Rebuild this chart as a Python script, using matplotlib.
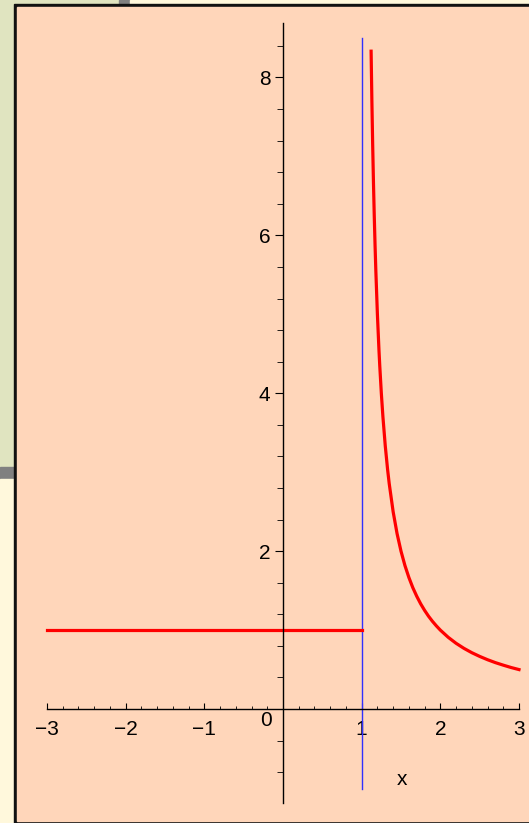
import matplotlib.pyplot as plt
from matplotlib.patches import Rectangle
from matplotlib.ticker import MultipleLocator

plt.rcParams['font.family'] = ['Liberation Sans', 'DejaVu Sans']

# piecewise function
left_x = [-3, 1]
left_y = [1, 1]
right_x = [1.12, 1.13, 1.14, 1.15, 1.16, 1.17, 1.18, 1.2, 1.22, 1.23, 1.25, 1.27,
           1.3, 1.33, 1.35, 1.4, 1.45, 1.5, 1.55, 1.6, 1.65, 1.7, 1.75, 1.8,
           1.85, 1.9, 1.95, 2.0, 2.1, 2.2, 2.3, 2.4, 2.5, 2.6, 2.7, 2.8, 2.9, 3.0]
right_y = [8.333, 7.692, 7.143, 6.667, 6.25, 5.882, 5.556, 5.0, 4.545, 4.348, 4.0, 3.704,
           3.333, 3.03, 2.857, 2.5, 2.222, 2.0, 1.818, 1.667, 1.538, 1.429, 1.333, 1.25,
           1.176, 1.111, 1.053, 1.0, 0.909, 0.833, 0.769, 0.714, 0.667, 0.625, 0.588,
           0.556, 0.526, 0.5]
asym_x = [1, 1]
asym_y = [-1.01, 8.5]
xticks = [-3, -2, -1, 1, 2, 3]
yticks = [2, 4, 6, 8]

W, H = 529, 823
fig = plt.figure(figsize=(W/100, H/100), dpi=100, facecolor='#e0e4c0')

def rect(x0, y0, x1, y1, color):
  # pixel box -> figure fraction
  fig.patches.append(Rectangle((x0/W, 1-y1/H), (x1-x0)/W, (y1-y0)/H,
                               transform=fig.transFigure, color=color, zorder=-5))

rect(0, 467, 14, 479, '#808080')
rect(0, 479, 14, 823, '#fff8dc')
rect(119, 0, 130, 4, '#808080')
rect(130, 0, 529, 4, '#fff8dc')
rect(14, 4, 529, 823, '#111111')
rect(17, 7, 529, 821, '#ffd6ba')

ax = fig.add_axes([47/W, 1-803/H, (519-47)/W, (803-23)/H])
ax.set_zorder(5)
ax.set_facecolor('none')
ax.set_xlim(-3, 3)
ax.set_ylim(-1.19, 8.69)

for s in ['top', 'right']:
  ax.spines[s].set_visible(False)
ax.spines['left'].set_position(('data', 0))
ax.spines['bottom'].set_position(('data', 0))
ax.spines['left'].set_linewidth(1)
ax.spines['bottom'].set_linewidth(1)

ax.plot(asym_x, asym_y, color='#3030ff', lw=1, clip_on=False)
ax.plot(left_x, left_y, color='red', lw=2.3, clip_on=False)
ax.plot(right_x, right_y, color='red', lw=2.3, clip_on=False)

ax.set_xticks(xticks)
ax.set_xticklabels(['\u2212%d' % -t if t < 0 else str(t) for t in xticks])
ax.set_yticks(yticks)
ax.xaxis.set_minor_locator(MultipleLocator(0.2))
ax.yaxis.set_minor_locator(MultipleLocator(0.4))
ax.tick_params(axis='x', which='major', direction='in', length=4, pad=8, labelsize=15)
ax.tick_params(axis='x', which='minor', direction='in', length=2.5)
ax.tick_params(axis='y', which='major', direction='out', length=6, pad=3, labelsize=15)
ax.tick_params(axis='y', which='minor', direction='out', length=4)

ax.text(-0.22, -0.14, '0', fontsize=15, ha='center', va='center')
ax.text(1.51, -0.89, 'x', fontsize=15, ha='center', va='center')

fig.savefig('out.png', dpi=100, facecolor=fig.get_facecolor())
